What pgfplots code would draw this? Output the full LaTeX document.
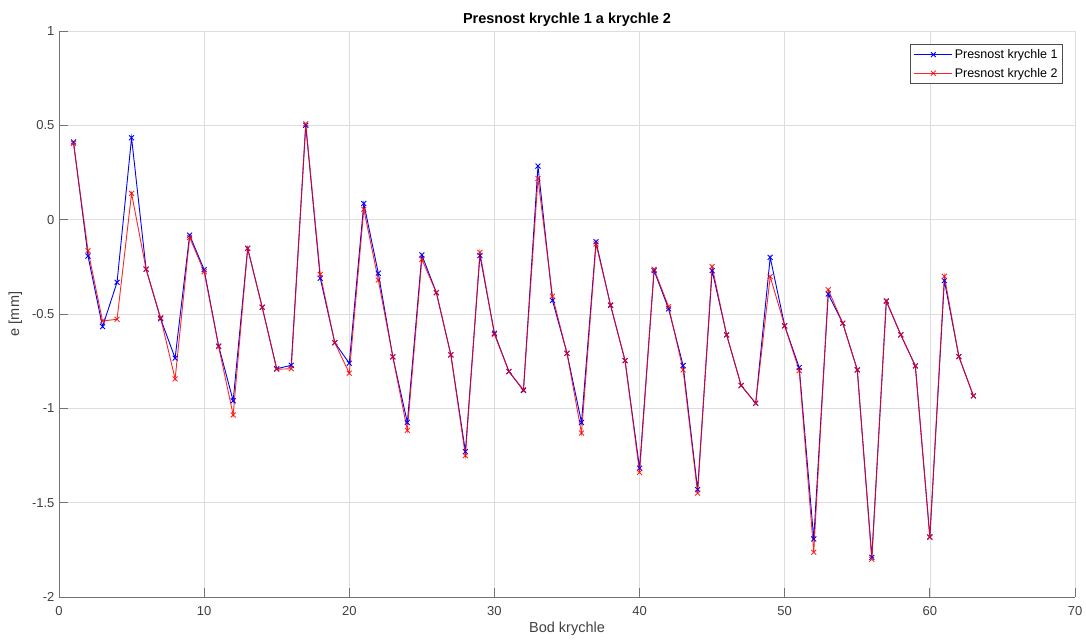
\documentclass[border=0pt]{standalone}
\usepackage{fontspec}
\setmainfont{Liberation Sans}
\usepackage{pgfplots}
\usepackage{pgfplotstable}
\pgfplotsset{compat=1.18}
\pgfplotstableread{
x y
1 0.412
2 -0.193
3 -0.567
4 -0.332
5 0.434
6 -0.262
7 -0.525
8 -0.734
9 -0.082
10 -0.265
11 -0.67
12 -0.96
13 -0.152
14 -0.464
15 -0.79
16 -0.772
17 0.50
18 -0.31
19 -0.652
20 -0.761
21 0.086
22 -0.284
23 -0.727
24 -1.075
25 -0.187
26 -0.387
27 -0.717
28 -1.229
29 -0.19
30 -0.602
31 -0.805
32 -0.905
33 0.284
34 -0.428
35 -0.708
36 -1.075
37 -0.117
38 -0.454
39 -0.747
40 -1.317
41 -0.27
42 -0.473
43 -0.773
44 -1.431
45 -0.27
46 -0.611
47 -0.879
48 -0.973
49 -0.20
50 -0.563
51 -0.784
52 -1.692
53 -0.394
54 -0.549
55 -0.796
56 -1.79
57 -0.432
58 -0.611
59 -0.775
60 -1.682
61 -0.323
62 -0.726
63 -0.934
}\blue
\pgfplotstableread{
x y
1 0.404
2 -0.165
3 -0.537
4 -0.528
5 0.139
6 -0.262
7 -0.52
8 -0.844
9 -0.094
10 -0.276
11 -0.673
12 -1.035
13 -0.152
14 -0.464
15 -0.793
16 -0.79
17 0.508
18 -0.29
19 -0.652
20 -0.814
21 0.055
22 -0.32
23 -0.727
24 -1.117
25 -0.21
26 -0.387
27 -0.717
28 -1.251
29 -0.173
30 -0.608
31 -0.805
32 -0.902
33 0.218
34 -0.406
35 -0.708
36 -1.131
37 -0.129
38 -0.452
39 -0.747
40 -1.34
41 -0.263
42 -0.461
43 -0.796
44 -1.449
45 -0.249
46 -0.611
47 -0.879
48 -0.973
49 -0.302
50 -0.563
51 -0.80
52 -1.763
53 -0.371
54 -0.549
55 -0.796
56 -1.80
57 -0.43
58 -0.611
59 -0.775
60 -1.682
61 -0.30
62 -0.726
63 -0.934
}\red
\begin{document}
\begin{tikzpicture}
\begin{axis}[
  scale only axis,
  width=1016pt, height=566pt,
  xmin=0, xmax=70, ymin=-2, ymax=1,
  xtick={0,10,...,70},
  ytick={-2,-1.5,-1,-0.5,0,0.5,1},
  yticklabels={-2,-1.5,-1,-0.5,0,0.5,1},
  axis x line=bottom, axis y line=left,
  axis line style={black!55, line width=0.8pt, -},
  tick align=inside,
  major tick length=9pt,
  tick style={black!55, line width=0.8pt},
  grid=major,
  major grid style={black!13, line width=0.7pt},
  /pgf/number format/assume math mode=true,
  tick label style={font=\fontsize{13}{15}\selectfont, text=black!75},
  xticklabel style={yshift=-6pt},
  yticklabel style={xshift=-1pt},
  title={Presnost krychle 1 a krychle 2},
  title style={font=\bfseries\fontsize{14.5}{16}\selectfont, yshift=-5pt},
  xlabel={Bod krychle},
  ylabel={e [mm]},
  label style={font=\fontsize{14.5}{16}\selectfont, text=black!75},
  xlabel style={yshift=1pt},
  ylabel style={yshift=3pt},
  legend style={at={(1-12/1016,1-13/566)}, anchor=north east,
    draw=black!70, line width=0.8pt, fill=white,
    font=\fontsize{12.5}{14}\selectfont, inner xsep=3pt, inner ysep=3pt,
    row sep=4pt, cells={anchor=west}},
  legend image code/.code={\draw[mark repeat=2,mark phase=2] plot coordinates {(0pt,0pt)(19pt,0pt)(38pt,0pt)};},
]
\addplot[blue, line width=0.9pt, mark=x, mark size=3.5pt] table[x=x,y=y] {\blue};
\addlegendentry{Presnost krychle 1}
\addplot[red, line width=0.9pt, mark=x, mark size=3.5pt, opacity=0.85] table[x=x,y=y] {\red};
\addlegendentry{Presnost krychle 2}
\end{axis}
\pgfresetboundingbox
\path[use as bounding box] (current axis.south west) ++(-59pt,-44pt) rectangle ++(1086pt,641pt);
\end{tikzpicture}
\end{document}
